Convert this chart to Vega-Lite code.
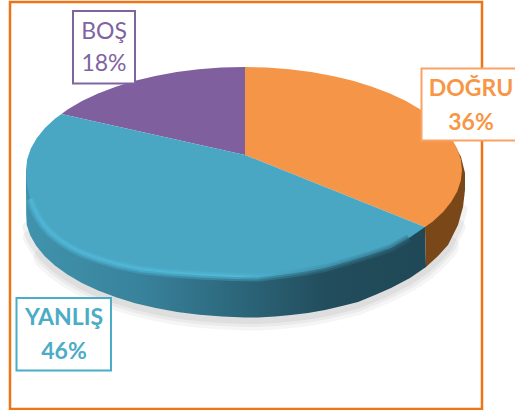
{
"$schema":"https://vega.github.io/schema/vega-lite/v6.json",
"width":515,"height":410,"padding":0,"autosize":{"type":"none"},"background":"white",
"config":{"view":{"stroke":null}},
"datasets":{
"labels":[
{"label":"DOĞRU","share":0.36,"cx":471,"y1":89,"y2":123,"x0":421.5,"x1":522,"y0":68.5,"y3":140.5},
{"label":"YANLIŞ","share":0.46,"cx":64,"y1":318,"y2":352,"x0":16.5,"x1":111,"y0":298,"y3":370.5},
{"label":"BOŞ","share":0.18,"cx":104,"y1":32,"y2":64,"x0":73,"x1":135,"y0":11,"y3":83.5}
],
"frame":[{"x0":10,"x1":482,"y0":2,"y3":409}],
"outline":[
{"part":"edge","i":1,"x":26,"y":195},{"part":"edge","i":2,"x":26.7,"y":224.8},{"part":"edge","i":3,"x":30.3,"y":235.4},{"part":"edge","i":4,"x":36.2,"y":245.8},{"part":"edge","i":5,"x":44.5,"y":255.9},{"part":"edge","i":6,"x":54.9,"y":265.5},{"part":"edge","i":7,"x":67.4,"y":274.5},{"part":"edge","i":8,"x":81.9,"y":282.9},{"part":"edge","i":9,"x":98.1,"y":290.5},{"part":"edge","i":10,"x":116,"y":297.3},{"part":"edge","i":11,"x":135.2,"y":303.2},{"part":"edge","i":12,"x":155.7,"y":308.1},{"part":"edge","i":13,"x":177.2,"y":312},{"part":"edge","i":14,"x":199.4,"y":314.7},{"part":"edge","i":15,"x":222.1,"y":316.4},{"part":"edge","i":16,"x":245,"y":317.5},{"part":"edge","i":17,"x":258,"y":317.5},{"part":"edge","i":18,"x":275,"y":316.5},{"part":"edge","i":19,"x":291,"y":315},{"part":"edge","i":20,"x":308,"y":313},{"part":"edge","i":21,"x":325,"y":310},{"part":"edge","i":22,"x":342,"y":306},{"part":"edge","i":23,"x":358,"y":302},{"part":"edge","i":24,"x":375,"y":295},{"part":"edge","i":25,"x":391,"y":288},{"part":"edge","i":26,"x":410,"y":278},{"part":"edge","i":27,"x":426,"y":267},{"part":"edge","i":28,"x":438,"y":256},{"part":"edge","i":29,"x":448,"y":245},{"part":"edge","i":30,"x":458,"y":225},{"part":"edge","i":31,"x":463,"y":207},{"part":"edge","i":32,"x":465,"y":190},
{"part":"sideTeal","i":1,"x":26,"y":170},{"part":"sideTeal","i":2,"x":26,"y":190},{"part":"sideTeal","i":3,"x":26.2,"y":214},{"part":"sideTeal","i":4,"x":26.7,"y":224.8},{"part":"sideTeal","i":5,"x":30.3,"y":235.4},{"part":"sideTeal","i":6,"x":36.2,"y":245.8},{"part":"sideTeal","i":7,"x":44.5,"y":255.9},{"part":"sideTeal","i":8,"x":54.9,"y":265.5},{"part":"sideTeal","i":9,"x":67.4,"y":274.5},{"part":"sideTeal","i":10,"x":81.9,"y":282.9},{"part":"sideTeal","i":11,"x":98.1,"y":290.5},{"part":"sideTeal","i":12,"x":116,"y":297.3},{"part":"sideTeal","i":13,"x":135.2,"y":303.2},{"part":"sideTeal","i":14,"x":155.7,"y":308.1},{"part":"sideTeal","i":15,"x":177.2,"y":312},{"part":"sideTeal","i":16,"x":199.4,"y":314.7},{"part":"sideTeal","i":17,"x":222.1,"y":316.4},{"part":"sideTeal","i":18,"x":245,"y":317.5},{"part":"sideTeal","i":19,"x":258,"y":317.5},{"part":"sideTeal","i":20,"x":275,"y":316.5},{"part":"sideTeal","i":21,"x":291,"y":315},{"part":"sideTeal","i":22,"x":308,"y":313},{"part":"sideTeal","i":23,"x":325,"y":310},{"part":"sideTeal","i":24,"x":342,"y":306},{"part":"sideTeal","i":25,"x":358,"y":302},{"part":"sideTeal","i":26,"x":375,"y":295},{"part":"sideTeal","i":27,"x":391,"y":288},{"part":"sideTeal","i":28,"x":410,"y":278},{"part":"sideTeal","i":29,"x":426,"y":267},{"part":"sideTeal","i":30,"x":425,"y":227},{"part":"sideTeal","i":31,"x":245,"y":200},
{"part":"sideOrange","i":1,"x":452,"y":140},{"part":"sideOrange","i":2,"x":461,"y":157},{"part":"sideOrange","i":3,"x":465,"y":173},{"part":"sideOrange","i":4,"x":465,"y":190},{"part":"sideOrange","i":5,"x":463,"y":207},{"part":"sideOrange","i":6,"x":458,"y":225},{"part":"sideOrange","i":7,"x":448,"y":245},{"part":"sideOrange","i":8,"x":438,"y":256},{"part":"sideOrange","i":9,"x":426,"y":267},{"part":"sideOrange","i":10,"x":425,"y":227},{"part":"sideOrange","i":11,"x":430,"y":150},
{"part":"orange","i":1,"x":245,"y":155},{"part":"orange","i":2,"x":245,"y":67},{"part":"orange","i":3,"x":266.7,"y":67.6},{"part":"orange","i":4,"x":289.3,"y":69.3},{"part":"orange","i":5,"x":311.3,"y":72},{"part":"orange","i":6,"x":332.7,"y":75.9},{"part":"orange","i":7,"x":353,"y":80.8},{"part":"orange","i":8,"x":372.1,"y":86.7},{"part":"orange","i":9,"x":389.9,"y":93.5},{"part":"orange","i":10,"x":406,"y":101.1},{"part":"orange","i":11,"x":420.4,"y":109.5},{"part":"orange","i":12,"x":432.8,"y":118.5},{"part":"orange","i":13,"x":443.1,"y":128.1},{"part":"orange","i":14,"x":451.3,"y":138.2},{"part":"orange","i":15,"x":457.2,"y":148.6},{"part":"orange","i":16,"x":460.8,"y":159.2},{"part":"orange","i":17,"x":462,"y":170},{"part":"orange","i":18,"x":460.8,"y":180.8},{"part":"orange","i":19,"x":457.2,"y":191.4},{"part":"orange","i":20,"x":451.3,"y":201.8},{"part":"orange","i":21,"x":443.1,"y":211.9},{"part":"orange","i":22,"x":432.8,"y":221.5},{"part":"orange","i":23,"x":425,"y":227},
{"part":"purple","i":1,"x":245,"y":155},{"part":"purple","i":2,"x":245,"y":67},{"part":"purple","i":3,"x":221.3,"y":67.6},{"part":"purple","i":4,"x":198.7,"y":69.3},{"part":"purple","i":5,"x":176.7,"y":72},{"part":"purple","i":6,"x":155.3,"y":75.9},{"part":"purple","i":7,"x":135,"y":80.8},{"part":"purple","i":8,"x":115.9,"y":86.7},{"part":"purple","i":9,"x":98.1,"y":93.5},{"part":"purple","i":10,"x":82,"y":101.1},{"part":"purple","i":11,"x":67.6,"y":109.5},{"part":"purple","i":12,"x":61.5,"y":114},
{"part":"teal","i":1,"x":245,"y":155},{"part":"teal","i":2,"x":61.5,"y":114},{"part":"teal","i":3,"x":55.2,"y":118.5},{"part":"teal","i":4,"x":44.9,"y":128.1},{"part":"teal","i":5,"x":36.7,"y":138.2},{"part":"teal","i":6,"x":30.8,"y":148.6},{"part":"teal","i":7,"x":27.2,"y":159.2},{"part":"teal","i":8,"x":26,"y":170},{"part":"teal","i":9,"x":26.5,"y":180},{"part":"teal","i":10,"x":28,"y":190},{"part":"teal","i":11,"x":30,"y":199},{"part":"teal","i":12,"x":33,"y":208},{"part":"teal","i":13,"x":37,"y":216},{"part":"teal","i":14,"x":43,"y":225},{"part":"teal","i":15,"x":50,"y":233},{"part":"teal","i":16,"x":60,"y":241},{"part":"teal","i":17,"x":71,"y":248},{"part":"teal","i":18,"x":83,"y":254},{"part":"teal","i":19,"x":100,"y":260},{"part":"teal","i":20,"x":117,"y":265},{"part":"teal","i":21,"x":141,"y":270},{"part":"teal","i":22,"x":167,"y":273},{"part":"teal","i":23,"x":200,"y":275.5},{"part":"teal","i":24,"x":233,"y":277},{"part":"teal","i":25,"x":258,"y":277.5},{"part":"teal","i":26,"x":280,"y":275},{"part":"teal","i":27,"x":303,"y":272},{"part":"teal","i":28,"x":325,"y":268},{"part":"teal","i":29,"x":350,"y":261},{"part":"teal","i":30,"x":370,"y":255},{"part":"teal","i":31,"x":391,"y":248},{"part":"teal","i":32,"x":409,"y":238},{"part":"teal","i":33,"x":425,"y":227},
{"part":"rim","i":4,"x":30,"y":199},{"part":"rim","i":5,"x":33,"y":208},{"part":"rim","i":6,"x":37,"y":216},{"part":"rim","i":7,"x":43,"y":225},{"part":"rim","i":8,"x":50,"y":233},{"part":"rim","i":9,"x":60,"y":241},{"part":"rim","i":10,"x":71,"y":248},{"part":"rim","i":11,"x":83,"y":254},{"part":"rim","i":12,"x":100,"y":260},{"part":"rim","i":13,"x":117,"y":265},{"part":"rim","i":14,"x":141,"y":270},{"part":"rim","i":15,"x":167,"y":273},{"part":"rim","i":16,"x":200,"y":275.5},{"part":"rim","i":17,"x":233,"y":277},{"part":"rim","i":18,"x":258,"y":277.5},{"part":"rim","i":19,"x":280,"y":275},{"part":"rim","i":20,"x":303,"y":272},{"part":"rim","i":21,"x":325,"y":268},{"part":"rim","i":22,"x":350,"y":261},{"part":"rim","i":23,"x":370,"y":255},{"part":"rim","i":24,"x":391,"y":248},{"part":"rim","i":25,"x":409,"y":238}
]
},
"encoding":{
"x":{"type":"quantitative","scale":{"domain":[0,515],"range":[0,515],"nice":false,"zero":false},"axis":null},
"y":{"type":"quantitative","scale":{"domain":[0,410],"range":[0,410],"nice":false,"zero":false},"axis":null}
},
"layer":[
{"data":{"name":"frame"},"mark":{"type":"rect","fill":null,"fillOpacity":0,"stroke":"#ec7518","strokeWidth":2.5},"encoding":{"x":{"field":"x0"},"x2":{"field":"x1"},"y":{"field":"y0"},"y2":{"field":"y3"}}},
{"data":{"name":"outline"},"transform":[{"filter":"datum.part==='edge' && datum.i>=5 && datum.i<=29"}],"mark":{"type":"line","stroke":"#000000","strokeOpacity":0.04,"strokeWidth":22,"yOffset":2,"strokeCap":"round"},"encoding":{"x":{"field":"x"},"y":{"field":"y"},"order":{"field":"i"}}},
{"data":{"name":"outline"},"transform":[{"filter":"datum.part==='edge' && datum.i>=3 && datum.i<=30"}],"mark":{"type":"line","stroke":"#000000","strokeOpacity":0.045,"strokeWidth":15,"yOffset":2,"strokeCap":"round"},"encoding":{"x":{"field":"x"},"y":{"field":"y"},"order":{"field":"i"}}},
{"data":{"name":"outline"},"transform":[{"filter":"datum.part==='edge' && datum.i>=2 && datum.i<=31"}],"mark":{"type":"line","stroke":"#000000","strokeOpacity":0.05,"strokeWidth":9,"yOffset":2,"strokeCap":"round"},"encoding":{"x":{"field":"x"},"y":{"field":"y"},"order":{"field":"i"}}},
{"data":{"name":"outline"},"transform":[{"filter":"datum.part==='sideTeal'"}],"mark":{"type":"line","strokeWidth":0,"fill":{"gradient":"linear","x1":0,"y1":0,"x2":1,"y2":0,"stops":[{"offset":0,"color":"#4193ad"},{"offset":0.3,"color":"#38819a"},{"offset":0.55,"color":"#2b6478"},{"offset":0.75,"color":"#224d5c"},{"offset":1,"color":"#204856"}]}},"encoding":{"x":{"field":"x"},"y":{"field":"y"},"order":{"field":"i"}}},
{"data":{"name":"outline"},"transform":[{"filter":"datum.part==='sideOrange'"}],"mark":{"type":"line","strokeWidth":0,"fill":"#7a4719"},"encoding":{"x":{"field":"x"},"y":{"field":"y"},"order":{"field":"i"}}},
{"data":{"name":"outline"},"transform":[{"filter":"datum.part==='orange'"}],"mark":{"type":"line","strokeWidth":0,"fill":"#f49548"},"encoding":{"x":{"field":"x"},"y":{"field":"y"},"order":{"field":"i"}}},
{"data":{"name":"outline"},"transform":[{"filter":"datum.part==='purple'"}],"mark":{"type":"line","strokeWidth":0,"fill":"#7f5f9d"},"encoding":{"x":{"field":"x"},"y":{"field":"y"},"order":{"field":"i"}}},
{"data":{"name":"outline"},"transform":[{"filter":"datum.part==='teal'"}],"mark":{"type":"line","strokeWidth":0,"fill":"#4aa7c3"},"encoding":{"x":{"field":"x"},"y":{"field":"y"},"order":{"field":"i"}}},
{"data":{"name":"outline"},"transform":[{"filter":"datum.part==='rim'"}],"mark":{"type":"line","strokeWidth":8,"strokeCap":"butt","opacity":0.3,"stroke":{"gradient":"linear","x1":0,"y1":0,"x2":1,"y2":0,"stops":[{"offset":0,"color":"#52bfe0"},{"offset":0.55,"color":"#52bfe0"},{"offset":0.72,"color":"#3f93ac"},{"offset":1,"color":"#2b6478"}]}},"encoding":{"x":{"field":"x"},"y":{"field":"y"},"order":{"field":"i"}}},
{"data":{"name":"outline"},"transform":[{"filter":"datum.part==='rim'"}],"mark":{"type":"line","strokeWidth":4,"strokeCap":"butt","opacity":0.45,"stroke":{"gradient":"linear","x1":0,"y1":0,"x2":1,"y2":0,"stops":[{"offset":0,"color":"#52bfe0"},{"offset":0.55,"color":"#55c3e3"},{"offset":0.72,"color":"#3f93ac"},{"offset":1,"color":"#2b6478"}]}},"encoding":{"x":{"field":"x"},"y":{"field":"y"},"order":{"field":"i"}}},
{"data":{"name":"labels"},"mark":{"type":"rect","fill":"white","strokeWidth":2},"encoding":{"x":{"field":"x0"},"x2":{"field":"x1"},"y":{"field":"y0"},"y2":{"field":"y3"},"stroke":{"field":"label","type":"nominal","legend":null,"scale":{"domain":["DOĞRU","YANLIŞ","BOŞ"],"range":["#f9a262","#4bacc6","#8064a2"]}}}},
{"data":{"name":"labels"},"transform":[{"filter":"datum.label!=='BOŞ'"}],"mark":{"type":"text","font":"Lato","fontSize":23,"fontWeight":"bold","align":"center","baseline":"middle"},"encoding":{"x":{"field":"cx"},"y":{"field":"y1"},"text":{"field":"label"},"color":{"field":"label","type":"nominal","legend":null,"scale":{"domain":["DOĞRU","YANLIŞ","BOŞ"],"range":["#f79646","#4bacc6","#8064a2"]}}}},
{"data":{"name":"labels"},"transform":[{"filter":"datum.label!=='BOŞ'"}],"mark":{"type":"text","font":"Lato","fontSize":23,"fontWeight":"bold","align":"center","baseline":"middle"},"encoding":{"x":{"field":"cx"},"y":{"field":"y2"},"text":{"field":"share","format":".0%"},"color":{"field":"label","type":"nominal","legend":null,"scale":{"domain":["DOĞRU","YANLIŞ","BOŞ"],"range":["#f79646","#4bacc6","#8064a2"]}}}},
{"data":{"name":"labels"},"transform":[{"filter":"datum.label==='BOŞ'"}],"mark":{"type":"text","font":"Lato","fontSize":23,"align":"center","baseline":"middle","color":"#8064a2"},"encoding":{"x":{"field":"cx"},"y":{"field":"y1"},"text":{"field":"label"}}},
{"data":{"name":"labels"},"transform":[{"filter":"datum.label==='BOŞ'"}],"mark":{"type":"text","font":"Lato","fontSize":23,"align":"center","baseline":"middle","color":"#8064a2"},"encoding":{"x":{"field":"cx"},"y":{"field":"y2"},"text":{"field":"share","format":".0%"}}}
]
}
